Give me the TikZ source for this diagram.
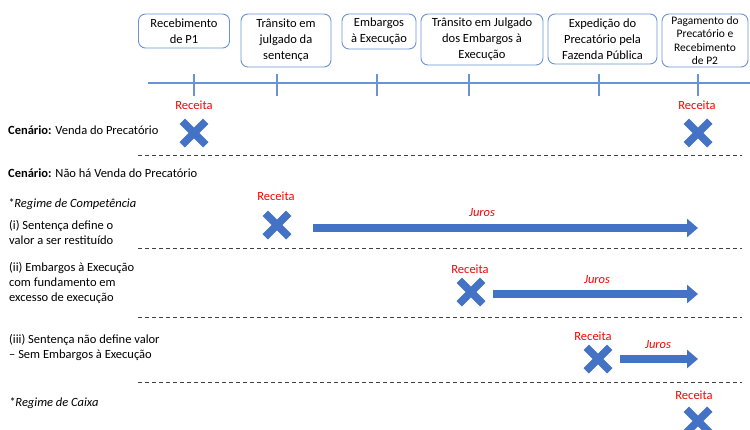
\documentclass[tikz,border=0pt]{standalone}
\usepackage{fontspec}
\setmainfont{Carlito}
\usetikzlibrary{arrows.meta}
\usetikzlibrary{shapes.misc}
\definecolor{azul}{HTML}{4472C4}
\definecolor{linha}{HTML}{6A93D4}

\tikzset{
  etapa/.style={draw=linha, line width=0.9pt, rounded corners=7pt, align=center, inner sep=0pt, font=\fontsize{12.5}{16}\selectfont},
  receita/.style={text=red, font=\fontsize{12.5}{14}\selectfont},
  juros/.style={text=red, font=\fontsize{12.5}{14}\selectfont\itshape},
  xis/.style={cross out, draw=azul, line width=7.5pt, minimum size=16pt, inner sep=0pt},
  seta/.style={azul, line width=8pt, -{Triangle[length=11pt,width=18pt]}},
  divisa/.style={black!75, line width=0.9pt, dash pattern=on 4pt off 3pt},
  cenario/.style={anchor=west, align=left, inner sep=0pt, font=\fontsize{12.5}{15}\selectfont}
}

\begin{document}
\begin{tikzpicture}[x=1pt, y=-1pt]
\useasboundingbox (0,0) rectangle (750,429);

% etapas do processo
\node[etapa, minimum width=91pt, minimum height=34pt] (p1)  at (184,31)   {Recebimento\\de P1};
\node[etapa, minimum width=90pt, minimum height=53pt] (tj)  at (286,40.5) {Trânsito em\\julgado da\\sentença};
\node[etapa, minimum width=74pt, minimum height=35pt] (emb) at (379,31.5) {Embargos\\à Execução};
\node[etapa, minimum width=122pt, minimum height=51pt] (tje) at (482,39.5) {Trânsito em Julgado\\dos Embargos à\\Execução};
\node[etapa, minimum width=109pt, minimum height=50pt] (exp) at (602.5,39) {Expedição do\\Precatório pela\\Fazenda Pública};
\node[etapa, minimum width=86pt, minimum height=53pt, font=\fontsize{11.5}{13.5}\selectfont] (p2) at (705,40.5) {Pagamento do\\Precatório e\\Recebimento\\de P2};

% linha do tempo
\draw[linha, line width=1.6pt] (148,83) -- (750,83);
\foreach \t in {194,277,377,469,599,698}
  \draw[linha, line width=1.6pt] (\t,74) -- (\t,96);

% cenario: venda
\node[cenario] (venda) at (8,130) {\textbf{Cenário:} Venda do Precatório};
\node[receita] (r1) at (194,105) {Receita};
\node[xis] (x1) at (194,133) {};
\node[receita] (r2) at (697,105) {Receita};
\node[xis] (x2) at (698,133) {};
\draw[divisa] (138,155) -- (742,155);

% cenario: sem venda
\node[cenario] (semvenda) at (8,173) {\textbf{Cenário:} Não há Venda do Precatório};
\node[cenario, font=\fontsize{12.5}{15}\selectfont\itshape] (comp) at (8,204) {*Regime de Competência};

\node[cenario] (c1) at (9,232) {(i) Sentença define o\\valor a ser restituído};
\node[receita] (r3) at (276,196) {Receita};
\node[xis] (x3) at (277,225) {};
\coordinate (a1) at (313,228);
\coordinate (b1) at (698,228);
\draw[seta] (a1) -- (b1);
\node[juros] (j1) at (482,213) {Juros};
\draw[divisa] (138,248) -- (742,248);

\node[cenario] (c2) at (9,283) {(ii) Embargos à Execução\\com fundamento em\\excesso de execução};
\node[receita] (r4) at (470,269) {Receita};
\node[xis] (x4) at (471,292) {};
\coordinate (a2) at (493,294);
\coordinate (b2) at (698,294);
\draw[seta] (a2) -- (b2);
\node[juros] (j2) at (597,280) {Juros};
\draw[divisa] (138,317) -- (742,317);

\node[cenario] (c3) at (9,347.5) {(iii) Sentença não define valor\\– Sem Embargos à Execução};
\node[receita] (r5) at (593,336) {Receita};
\node[xis] (x5) at (598,359) {};
\coordinate (a3) at (620,359);
\coordinate (b3) at (698,359);
\draw[seta] (a3) -- (b3);
\node[juros] (j3) at (658,345) {Juros};
\draw[divisa] (138,382) -- (742,382);

% regime de caixa
\node[cenario, font=\fontsize{12.5}{15}\selectfont\itshape] (caixa) at (9,403) {*Regime de Caixa};
\node[receita] (r6) at (694,395) {Receita};
\node[xis] (x6) at (698,421) {};
\end{tikzpicture}
\end{document}
